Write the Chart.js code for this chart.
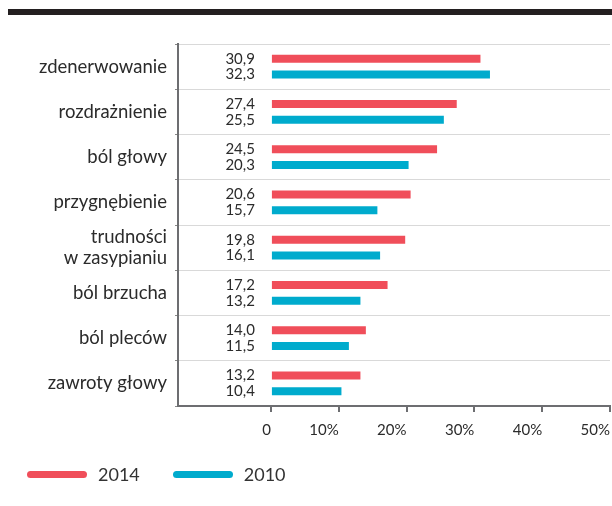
<!DOCTYPE html>
<html>
<head>
<meta charset="utf-8">
<script src="https://cdn.jsdelivr.net/npm/chart.js@4.4.1/dist/chart.umd.min.js"></script>
<style>
  html, body { margin: 0; padding: 0; background: #fff; }
  #wrap { position: relative; width: 612px; height: 506px; overflow: hidden; }
  #topBar { position: absolute; left: 8px; top: 9px; width: 604px; height: 6px; background: #231f20; }
  #legend { position: absolute; left: 27px; top: 463px; display: flex; align-items: center;
            font-family: Lato, sans-serif; font-size: 18px; color: #333; }
  .item { display: flex; align-items: center; margin-right: 33px; }
  .swatch { width: 60px; height: 7px; border-radius: 4px; margin-right: 11px; }
</style>
</head>
<body>
<div id="wrap">
  <canvas id="grafica" width="612" height="506"></canvas>
  <div id="topBar"></div>
  <div id="legend"></div>
</div>
<script>
// ── DATOS ─────────────────────────────────────────────
const categorias = [
    'zdenerwowanie', 'rozdrażnienie', 'ból głowy', 'przygnębienie',
    ['trudności', 'w zasypianiu'], 'ból brzucha', 'ból pleców', 'zawroty głowy'
];
const valores2014 = [30.9, 27.4, 24.5, 20.6, 19.8, 17.2, 14.0, 13.2];
const valores2010 = [32.3, 25.5, 20.3, 15.7, 16.1, 13.2, 11.5, 10.4];
const ticksX = [0, 10, 20, 30, 40, 50];

const rojo = '#f04e5a';
const azul = '#00abcd';
const textoColor = '#2b2b2b';
const ejeColor = '#6d6e71';

const fmt = v => v.toFixed(1).replace('.', ',');

// Etiquetas de valores a la izquierda del cero
const etiquetasValores = {
    id: 'etiquetasValores',
    afterDatasetsDraw(chart) {
        const ctx = chart.ctx;
        const x0 = chart.scales.x.getPixelForValue(0);
        ctx.save();
        ctx.font = '15px Lato';
        ctx.fillStyle = textoColor;
        ctx.textAlign = 'right';
        ctx.textBaseline = 'middle';
        chart.data.datasets.forEach((ds, i) => {
            chart.getDatasetMeta(i).data.forEach((bar, j) => {
                ctx.fillText(fmt(ds.data[j]), x0 - 16, bar.y);
            });
        });
        ctx.restore();
    }
};

const chart = new Chart(document.getElementById('grafica'), {
    type: 'bar',
    data: {
        labels: categorias,
        datasets: [
            { label: '2014', data: valores2014, backgroundColor: rojo },
            { label: '2010', data: valores2010, backgroundColor: azul }
        ]
    },
    options: {
        indexAxis: 'y',
        responsive: false,
        animation: false,
        events: [],
        categoryPercentage: 0.7,
        barPercentage: 0.5,
        layout: { padding: { left: 0, right: 2, top: 44, bottom: 60 } },
        plugins: { legend: { display: false }, tooltip: { enabled: false } },
        scales: {
            x: {
                min: -13.7,
                max: 50,
                afterBuildTicks: s => { s.ticks = ticksX.map(v => ({ value: v })); },
                afterFit: s => { s.height = 40; s.paddingLeft = 0; s.paddingRight = 0; },
                grid: { drawOnChartArea: false, tickLength: 6, tickColor: ejeColor, lineWidth: 2 },
                border: { color: ejeColor, width: 2 },
                ticks: {
                    align: 'end',
                    padding: 9,
                    color: textoColor,
                    font: { family: 'Lato', size: 15 },
                    callback: v => v === 0 ? '0' : v + '%'
                }
            },
            y: {
                afterFit: s => { s.width = 178; s.paddingTop = 0; s.paddingBottom = 0; },
                grid: { color: '#d9d9d9', lineWidth: 1, tickLength: 3, tickColor: '#888' },
                border: { color: ejeColor, width: 2 },
                ticks: {
                    padding: 8,
                    color: textoColor,
                    font: { family: 'Lato', size: 18.5, lineHeight: 1.1 }
                }
            }
        }
    },
    plugins: [etiquetasValores]
});

// Leyenda
const leyenda = document.getElementById('legend');
chart.data.datasets.forEach(ds => {
    const item = document.createElement('div');
    item.className = 'item';
    item.innerHTML = '<span class="swatch" style="background:' + ds.backgroundColor + '"></span>' + ds.label;
    leyenda.appendChild(item);
});
</script>
</body>
</html>
